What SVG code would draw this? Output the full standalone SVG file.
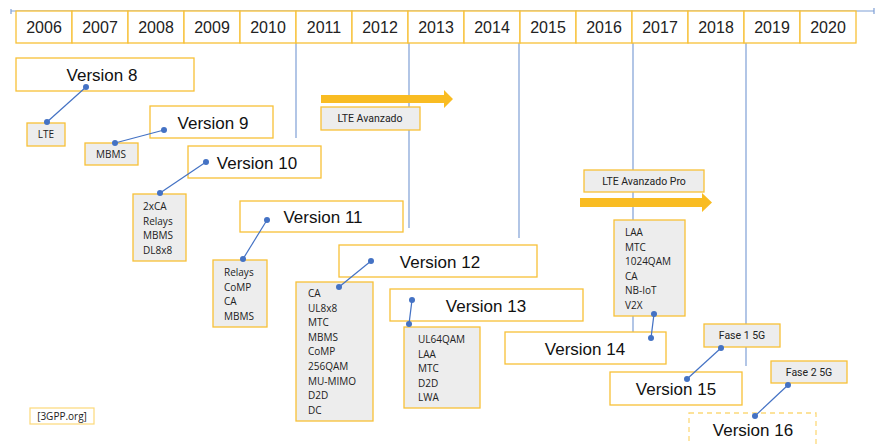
<svg xmlns="http://www.w3.org/2000/svg" width="875" height="445" viewBox="0 0 875 445">
<style>
.yr{fill:#fff;stroke:#f7c137;stroke-width:1.3}
.yt{font-family:"Liberation Sans",Arial,sans-serif;font-size:16px;fill:#222;text-anchor:middle}
.ver{fill:#fff;stroke:#f7c137;stroke-width:1.3}
.vt{font-family:"Liberation Sans",Arial,sans-serif;font-size:17px;fill:#111;text-anchor:middle}
.feat{fill:#ededed;stroke:#f7c137;stroke-width:1.3}
.ft{font-family:"Open Sans","Noto Sans",sans-serif;font-size:10px;fill:#222}
.lt{font-family:Roboto,"Liberation Sans",sans-serif;font-size:10.5px;fill:#222;text-anchor:middle}
.axis{stroke:#7f9fd6;stroke-width:1.2;fill:none}
.con{stroke:#4472c4;stroke-width:1.2;fill:none}
.dot{fill:#4472c4}
.arr{fill:#f9bc22}
</style>
<g id="axis" class="axis">
<line x1="11" y1="11" x2="874" y2="11"/>
<line x1="11" y1="9" x2="11" y2="14"/>
<line x1="874" y1="8" x2="874" y2="14"/>
<line x1="296" y1="43" x2="296" y2="138"/>
<line x1="409" y1="43" x2="409" y2="228"/>
<line x1="519" y1="43" x2="519" y2="238"/>
<line x1="633" y1="43" x2="633" y2="333"/>
<line x1="746" y1="43" x2="746" y2="366"/>
</g>
<g id="timeline">
<rect class="yr" x="16" y="11" width="56" height="32"/><text class="yt" x="44" y="33">2006</text>
<rect class="yr" x="72" y="11" width="56" height="32"/><text class="yt" x="100" y="33">2007</text>
<rect class="yr" x="128" y="11" width="56" height="32"/><text class="yt" x="156" y="33">2008</text>
<rect class="yr" x="184" y="11" width="56" height="32"/><text class="yt" x="212" y="33">2009</text>
<rect class="yr" x="240" y="11" width="56" height="32"/><text class="yt" x="268" y="33">2010</text>
<rect class="yr" x="296" y="11" width="56" height="32"/><text class="yt" x="324" y="33">2011</text>
<rect class="yr" x="352" y="11" width="56" height="32"/><text class="yt" x="380" y="33">2012</text>
<rect class="yr" x="408" y="11" width="56" height="32"/><text class="yt" x="436" y="33">2013</text>
<rect class="yr" x="464" y="11" width="56" height="32"/><text class="yt" x="492" y="33">2014</text>
<rect class="yr" x="520" y="11" width="56" height="32"/><text class="yt" x="548" y="33">2015</text>
<rect class="yr" x="576" y="11" width="56" height="32"/><text class="yt" x="604" y="33">2016</text>
<rect class="yr" x="632" y="11" width="56" height="32"/><text class="yt" x="660" y="33">2017</text>
<rect class="yr" x="688" y="11" width="56" height="32"/><text class="yt" x="716" y="33">2018</text>
<rect class="yr" x="744" y="11" width="56" height="32"/><text class="yt" x="772" y="33">2019</text>
<rect class="yr" x="800" y="11" width="56" height="32"/><text class="yt" x="828" y="33">2020</text>
</g>
<g id="v8"><rect class="ver" x="16" y="58" width="178" height="33"/><text class="vt" x="102" y="81">Version 8</text></g>
<g id="f8"><rect class="feat" x="27" y="123" width="38" height="23"/><text class="ft" x="46" y="138" text-anchor="middle">LTE</text></g>
<g id="v9"><rect class="ver" x="150" y="106" width="123" height="32"/><text class="vt" x="213" y="129">Version 9</text></g>
<g id="f9"><rect class="feat" x="85" y="143" width="53" height="22"/><text class="ft" x="111" y="158" text-anchor="middle">MBMS</text></g>
<g id="v10"><rect class="ver" x="188" y="146" width="133" height="32"/><text class="vt" x="257" y="169">Version 10</text></g>
<g id="f10"><rect class="feat" x="133" y="194" width="53" height="67"/><text class="ft" x="143" y="210">2xCA</text><text class="ft" x="143" y="224.5">Relays</text><text class="ft" x="143" y="239">MBMS</text><text class="ft" x="143" y="253.5">DL8x8</text></g>
<g id="v11"><rect class="ver" x="240" y="201" width="163" height="31"/><text class="vt" x="323" y="223">Version 11</text></g>
<g id="f11"><rect class="feat" x="213" y="260" width="54" height="67"/><text class="ft" x="224" y="276">Relays</text><text class="ft" x="224" y="290.5">CoMP</text><text class="ft" x="224" y="305">CA</text><text class="ft" x="224" y="319.5">MBMS</text></g>
<g id="lteav"><polygon class="arr" points="321,95 444,95 444,90 453,99 444,108 444,103 321,103"/><rect class="feat" x="321" y="107" width="99" height="23"/><text class="lt" x="370" y="122">LTE Avanzado</text></g>
<g id="v12"><rect class="ver" x="339" y="245" width="198" height="32"/><text class="vt" x="440" y="268">Version 12</text></g>
<g id="f12"><rect class="feat" x="296" y="282" width="77" height="139"/>
<text class="ft" x="308" y="297">CA</text><text class="ft" x="308" y="311.6">UL8x8</text><text class="ft" x="308" y="326.2">MTC</text><text class="ft" x="308" y="340.8">MBMS</text><text class="ft" x="308" y="355.4">CoMP</text><text class="ft" x="308" y="370">256QAM</text><text class="ft" x="308" y="384.6">MU-MIMO</text><text class="ft" x="308" y="399.2">D2D</text><text class="ft" x="308" y="413.8">DC</text></g>
<g id="v13"><rect class="ver" x="390" y="289" width="193" height="32"/><text class="vt" x="486" y="312">Version 13</text></g>
<g id="f13"><rect class="feat" x="404" y="327" width="76" height="81"/><text class="ft" x="418" y="343">UL64QAM</text><text class="ft" x="418" y="357.5">LAA</text><text class="ft" x="418" y="372">MTC</text><text class="ft" x="418" y="386.5">D2D</text><text class="ft" x="418" y="401">LWA</text></g>
<g id="lteavpro"><rect class="feat" x="584" y="170" width="120" height="22"/><text class="lt" x="644" y="185">LTE Avanzado Pro</text><polygon class="arr" points="580,198 702,198 702,193 712,202.5 702,212 702,207 580,207"/></g>
<g id="f14"><rect class="feat" x="614" y="220" width="71" height="96"/><text class="ft" x="625" y="236">LAA</text><text class="ft" x="625" y="250.5">MTC</text><text class="ft" x="625" y="265">1024QAM</text><text class="ft" x="625" y="279.5">CA</text><text class="ft" x="625" y="294">NB-IoT</text><text class="ft" x="625" y="308.5">V2X</text></g>
<g id="v14"><rect class="ver" x="505" y="332" width="161" height="32"/><text class="vt" x="585" y="355">Version 14</text></g>
<g id="fase1"><rect class="feat" x="704" y="324" width="76" height="23"/><text class="lt" x="742" y="339">Fase 1 5G</text></g>
<g id="v15"><rect class="ver" x="610" y="372" width="132" height="33"/><text class="vt" x="676" y="395">Version 15</text></g>
<g id="fase2"><rect class="feat" x="771" y="361" width="76" height="22"/><text class="lt" x="809" y="376">Fase 2 5G</text></g>
<g id="v16"><rect x="689" y="413" width="127" height="40" fill="#fff" stroke="#fcd97a" stroke-width="1.3" stroke-dasharray="5,4"/><text class="vt" x="753" y="436">Version 16</text></g>
<g id="src"><rect x="30" y="408" width="64" height="16" fill="#fff" stroke="#fcd97a" stroke-width="1.2"/><text class="ft" x="62" y="419.5" text-anchor="middle" font-size="9">[3GPP.org]</text></g>
<g id="connectors">
<line class="con" x1="86" y1="87" x2="47" y2="122"/><circle class="dot" cx="86" cy="87" r="3"/><circle class="dot" cx="47" cy="122" r="3"/>
<line class="con" x1="164" y1="130" x2="115" y2="143"/><circle class="dot" cx="164" cy="130" r="3"/><circle class="dot" cx="115" cy="143" r="3"/>
<line class="con" x1="206" y1="162" x2="160" y2="193"/><circle class="dot" cx="206" cy="162" r="3"/><circle class="dot" cx="160" cy="193" r="3"/>
<line class="con" x1="267" y1="220" x2="243" y2="259"/><circle class="dot" cx="267" cy="220" r="3"/><circle class="dot" cx="243" cy="259" r="3"/>
<line class="con" x1="371" y1="261" x2="339" y2="287"/><circle class="dot" cx="371" cy="261" r="3"/><circle class="dot" cx="339" cy="287" r="3"/>
<line class="con" x1="412" y1="300" x2="409" y2="324"/><circle class="dot" cx="412" cy="300" r="3"/><circle class="dot" cx="409" cy="324" r="3"/>
<line class="con" x1="654" y1="314" x2="651" y2="338"/><circle class="dot" cx="654" cy="314" r="3"/><circle class="dot" cx="651" cy="338" r="3"/>
<line class="con" x1="721" y1="348" x2="687" y2="379"/><circle class="dot" cx="721" cy="348" r="3"/><circle class="dot" cx="687" cy="379" r="3"/>
<line class="con" x1="788" y1="385" x2="755" y2="416"/><circle class="dot" cx="788" cy="385" r="3"/><circle class="dot" cx="755" cy="416" r="3"/>
</g>
</svg>
